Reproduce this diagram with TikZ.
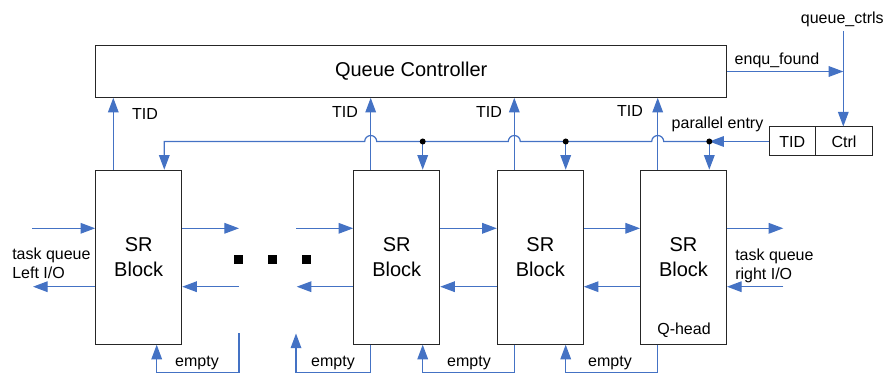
\documentclass[tikz,border=0pt]{standalone}
\usepackage{fontspec}
\setmainfont{Liberation Sans}
\usetikzlibrary{arrows.meta}
\definecolor{wire}{RGB}{68,114,196}
\begin{document}
\begin{tikzpicture}[x=0.75pt,y=-0.75pt,
  box/.style={draw=black!85, line width=0.75pt, inner sep=0pt},
  srblock/.style={box, minimum width=64.5pt, minimum height=130.5pt,
    font=\fontsize{15}{18.75}\selectfont, align=center},
  flow/.style={draw=wire, line width=0.9pt, -{Triangle[length=11pt,width=8pt]}},
  wireline/.style={draw=wire, line width=0.9pt},
  lbl/.style={font=\fontsize{12}{14.4}\selectfont, inner sep=0pt},
  dot/.style={circle, fill=black, inner sep=0pt, minimum size=4.5pt},
  pause/.style={fill=black, inner sep=0pt, minimum size=6.75pt}
]
\path[use as bounding box] (0,0) rectangle (885,374);

% controller and shift-register blocks
\node[box, minimum width=473.25pt, minimum height=38.7pt,
  font=\fontsize{15}{18}\selectfont] (qc) at (411.2,71.5) {Queue Controller};
\node[srblock] (b1) at (138.7,257.2) {SR\\Block};
\node[srblock] (b2) at (396.7,257.2) {SR\\Block};
\node[srblock] (b3) at (540.3,257.2) {SR\\Block};
\node[srblock] (b4) at (683.5,257.2) {SR\\Block};
\node[box, lbl, minimum width=34.5pt, minimum height=21.75pt] (tid) at (792.3,141.5) {TID};
\node[box, lbl, minimum width=43pt, minimum height=21.75pt] (ctrl) at (844.1,141.5) {Ctrl};

% TID outputs to the controller
\draw[flow] (113.3,0 |- b1.north) -- (113.3,0 |- qc.south);
\draw[flow] (370.7,0 |- b2.north) -- (370.7,0 |- qc.south);
\draw[flow] (514.3,0 |- b3.north) -- (514.3,0 |- qc.south);
\draw[flow] (657.7,0 |- b4.north) -- (657.7,0 |- qc.south);
\node[lbl] (tid1) at (145,114) {TID};
\node[lbl] (tid2) at (345,111.7) {TID};
\node[lbl] (tid3) at (489,111.7) {TID};
\node[lbl] (tid4) at (630,110.5) {TID};

% parallel entry bus
\coordinate (j2) at (422.7,141.5);
\coordinate (j3) at (565.7,141.5);
\coordinate (j4) at (709.3,141.5);
\draw[flow] (tid.west) -- (j4);
\draw[flow] (j4) -- (j4 |- b4.north);
\draw[flow] (j3) -- (j3 |- b3.north);
\draw[flow] (j2) -- (j2 |- b2.north);
\draw[flow] (j4) -- (663.7,141.5) arc[start angle=0,end angle=180,radius=4.5pt]
  -- (520.3,141.5) arc[start angle=0,end angle=180,radius=4.5pt]
  -- (376.7,141.5) arc[start angle=0,end angle=180,radius=4.5pt]
  -- (164.3,141.5) -- (164.3,0 |- b1.north);
\node[dot] (d2) at (j2) {};
\node[dot] (d3) at (j3) {};
\node[dot] (d4) at (j4) {};
\node[lbl] (pe) at (717.5,124.3) {parallel entry};

% controller status and control inputs
\coordinate (qj) at (843.3,71.5);
\coordinate (qtop) at (843.3,31);
\draw[flow] (qc.east) -- (qj);
\draw[flow] (qtop) -- (qtop |- ctrl.north);
\node[lbl] (ef) at (777,60) {enqu\_found};
\node[lbl] (qcl) at (842.3,19) {queue\_ctrls};

% left task queue I/O
\coordinate (lin) at (32,228.3);
\coordinate (lout) at (33,286.7);
\draw[flow] (lin) -- (lin -| b1.west);
\draw[flow] (lout -| b1.west) -- (lout);
\node[lbl, anchor=west, align=left] (lio) at (12,263.5) {task queue\\Left I/O};

% chain around the elided blocks
\coordinate (g1a) at (239,228.3);
\coordinate (g1b) at (239,286.7);
\coordinate (g2a) at (296,228.3);
\coordinate (g2b) at (296.7,286.7);
\draw[flow] (g1a -| b1.east) -- (g1a);
\draw[flow] (g1b) -- (g1b -| b1.east);
\draw[flow] (g2a) -- (g2a -| b2.west);
\draw[flow] (g2b -| b2.west) -- (g2b);
\node[pause] (p1) at (238,259.7) {};
\node[pause] (p2) at (272,259.7) {};
\node[pause] (p3) at (306,259.7) {};

% neighbour links
\draw[flow] (g1a -| b2.east) -- (g1a -| b3.west);
\draw[flow] (g1b -| b3.west) -- (g1b -| b2.east);
\draw[flow] (g1a -| b3.east) -- (g1a -| b4.west);
\draw[flow] (g1b -| b4.west) -- (g1b -| b3.east);

% right task queue I/O
\coordinate (rout) at (783.3,228.3);
\coordinate (rin) at (783.3,286.7);
\draw[flow] (rout -| b4.east) -- (rout);
\draw[flow] (rin) -- (rin -| b4.east);
\node[lbl, anchor=west, align=left] (rio) at (735,265.5) {task queue\\right I/O};
\node[lbl] (qh) at (684,330) {Q-head};

% empty flags
\coordinate (e0) at (239,333);
\coordinate (e1) at (296,333.5);
\draw[flow] (e0) -- (239,372.5) -- (156.7,372.5) -- (156.7,0 |- b1.south);
\draw[flow] (370.7,0 |- b2.south) -- (370.7,372.5) -- (296,372.5) -- (e1);
\draw[flow] (514.3,0 |- b3.south) -- (514.3,372.5) -- (422.7,372.5) -- (422.7,0 |- b2.south);
\draw[flow] (657.7,0 |- b4.south) -- (657.7,372.5) -- (565.7,372.5) -- (565.7,0 |- b3.south);
\node[lbl] (em1) at (197,362.7) {empty};
\node[lbl] (em2) at (333,362.7) {empty};
\node[lbl] (em3) at (469,362.7) {empty};
\node[lbl] (em4) at (610,362.7) {empty};
\end{tikzpicture}
\end{document}
